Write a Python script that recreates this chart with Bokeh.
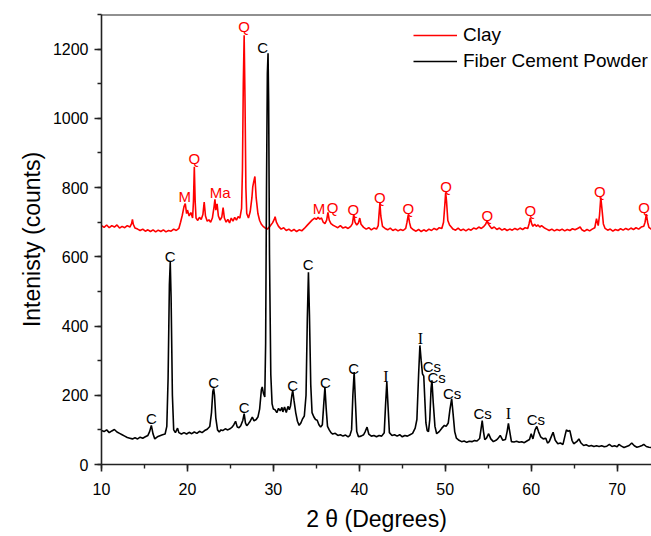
from bokeh.plotting import figure
from bokeh.models import ColumnDataSource, Legend, LegendItem, Span, SingleIntervalTicker
from bokeh.core.properties import value
from bokeh.embed import file_html
from bokeh.resources import INLINE

# ---------------- data ----------------
clay_theta = [10.0, 10.3, 10.6, 10.9, 11.2, 11.5, 11.8, 12.1, 12.4, 12.7, 13.0, 13.3, 13.5, 13.6, 13.7, 13.9,
              14.2, 14.5, 14.8, 15.1, 15.4, 15.7, 16.0, 16.3, 16.6, 16.9, 17.2, 17.5, 17.8, 18.1, 18.4, 18.7,
              19.0, 19.2, 19.4, 19.6, 19.75, 19.9, 20.0, 20.2, 20.4, 20.6, 20.7, 20.8, 20.9, 21.0, 21.2, 21.4,
              21.6, 21.8, 21.95, 22.1, 22.3, 22.5, 22.7, 22.9, 23.1, 23.2, 23.3, 23.45, 23.6, 23.8, 24.0, 24.15,
              24.3, 24.5, 24.7, 24.9, 25.1, 25.3, 25.5, 25.7, 25.9, 26.1, 26.3, 26.4, 26.5, 26.6, 26.7, 26.8,
              26.9, 27.1, 27.3, 27.5, 27.6, 27.7, 27.85, 28.0, 28.2, 28.4, 28.6, 28.8, 29.0, 29.3, 29.6, 29.9,
              30.1, 30.2, 30.35, 30.6, 30.9, 31.2, 31.5, 31.8, 32.1, 32.4, 32.7, 33.0, 33.3, 33.6, 33.9, 34.2,
              34.5, 34.8, 35.0, 35.2, 35.4, 35.6, 35.8, 36.0, 36.2, 36.35, 36.5, 36.7, 36.9, 37.2, 37.5, 37.8,
              38.1, 38.4, 38.7, 39.0, 39.2, 39.35, 39.5, 39.7, 39.9, 40.05, 40.2, 40.5, 40.8, 41.1, 41.4, 41.7,
              42.0, 42.2, 42.3, 42.4, 42.5, 42.7, 43.0, 43.3, 43.6, 43.9, 44.2, 44.5, 44.8, 45.1, 45.4, 45.55,
              45.7, 45.85, 46.0, 46.3, 46.6, 46.9, 47.2, 47.5, 47.8, 48.1, 48.4, 48.7, 49.0, 49.3, 49.6, 49.8,
              49.95, 50.05, 50.15, 50.3, 50.5, 50.7, 50.9, 51.2, 51.5, 51.8, 52.1, 52.4, 52.7, 53.0, 53.3, 53.6,
              53.9, 54.2, 54.5, 54.7, 54.85, 55.0, 55.2, 55.4, 55.7, 56.0, 56.3, 56.6, 56.9, 57.2, 57.5, 57.8,
              58.1, 58.4, 58.7, 59.0, 59.3, 59.6, 59.75, 59.9, 60.05, 60.2, 60.4, 60.6, 60.8, 61.0, 61.2, 61.5,
              61.8, 62.1, 62.4, 62.7, 63.0, 63.3, 63.6, 63.9, 64.2, 64.5, 64.8, 65.1, 65.4, 65.7, 65.9, 66.2,
              66.5, 66.8, 67.1, 67.4, 67.6, 67.8, 67.95, 68.1, 68.25, 68.4, 68.6, 68.9, 69.2, 69.5, 69.8, 70.1,
              70.4, 70.7, 71.0, 71.3, 71.6, 71.9, 72.2, 72.5, 72.8, 73.1, 73.25, 73.4, 73.55, 73.7, 74.0]
clay_counts = [690, 685, 692, 684, 690, 686, 692, 683, 688, 684, 690, 686, 696, 708, 694, 683,
               680, 676, 680, 674, 678, 673, 678, 672, 677, 673, 678, 672, 676, 674, 680, 676,
               682, 700, 720, 745, 754, 725, 735, 718, 728, 712, 760, 860, 760, 712, 705, 714,
               708, 722, 758, 718, 703, 707, 700, 712, 745, 766, 735, 753, 718, 706, 715, 742,
               712, 700, 708, 698, 712, 703, 714, 706, 716, 712, 740, 850, 1100, 1240, 1050, 800,
               725, 712, 730, 770, 802, 815, 832, 770, 725, 705, 694, 688, 684, 680, 688, 698,
               708, 716, 700, 688, 680, 684, 676, 680, 674, 679, 673, 678, 675, 682, 690, 698,
               706, 712, 708, 714, 709, 712, 700, 696, 706, 728, 706, 696, 692, 688, 684, 690,
               683, 686, 682, 688, 696, 722, 700, 692, 698, 712, 694, 685, 680, 684, 678, 683,
               680, 690, 725, 755, 718, 688, 682, 678, 683, 676, 680, 675, 679, 676, 682, 700,
               722, 698, 684, 678, 674, 679, 673, 678, 674, 680, 676, 682, 678, 684, 682, 700,
               750, 786, 760, 705, 692, 686, 680, 677, 683, 676, 680, 675, 680, 677, 683, 680,
               686, 682, 688, 694, 703, 696, 688, 682, 686, 679, 683, 677, 681, 676, 680, 677,
               682, 678, 683, 679, 684, 682, 695, 712, 696, 688, 694, 688, 692, 686, 690, 684,
               680, 676, 680, 675, 679, 676, 680, 675, 679, 676, 681, 678, 682, 686, 678, 674,
               679, 675, 680, 684, 710, 690, 720, 772, 735, 695, 682, 677, 680, 674, 679, 676,
               681, 677, 682, 678, 683, 679, 684, 680, 686, 688, 700, 723, 700, 685, 679]

cement_theta = [10.0, 10.3, 10.6, 10.9, 11.2, 11.5, 11.8, 12.1, 12.4, 12.7, 13.0, 13.3, 13.6, 13.9, 14.2, 14.5,
                14.8, 15.1, 15.4, 15.6, 15.8, 16.0, 16.2, 16.5, 16.8, 17.1, 17.4, 17.6, 17.75, 17.9, 18.0, 18.1,
                18.25, 18.4, 18.6, 18.85, 19.0, 19.3, 19.6, 19.9, 20.2, 20.5, 20.8, 21.1, 21.4, 21.7, 22.0, 22.3,
                22.6, 22.8, 22.95, 23.05, 23.15, 23.3, 23.5, 23.7, 23.9, 24.1, 24.4, 24.7, 25.0, 25.2, 25.4, 25.6,
                25.8, 26.0, 26.2, 26.45, 26.6, 26.75, 26.9, 27.1, 27.3, 27.55, 27.75, 28.0, 28.2, 28.4, 28.6, 28.7,
                28.85, 29.0, 29.1, 29.2, 29.3, 29.38, 29.45, 29.55, 29.7, 29.85, 30.0, 30.2, 30.4, 30.6, 30.8, 31.0,
                31.1, 31.3, 31.5, 31.7, 31.85, 32.0, 32.15, 32.25, 32.4, 32.6, 32.8, 33.0, 33.2, 33.4, 33.6, 33.8,
                33.95, 34.08, 34.2, 34.35, 34.5, 34.7, 34.9, 35.1, 35.3, 35.5, 35.7, 35.85, 36.0, 36.15, 36.3, 36.5,
                36.7, 36.9, 37.2, 37.5, 37.8, 38.1, 38.4, 38.7, 38.9, 39.1, 39.25, 39.4, 39.55, 39.7, 39.9, 40.2,
                40.5, 40.7, 40.9, 41.1, 41.4, 41.7, 42.0, 42.3, 42.6, 42.9, 43.05, 43.2, 43.35, 43.5, 43.8, 44.1,
                44.4, 44.7, 45.0, 45.3, 45.6, 45.9, 46.2, 46.5, 46.7, 46.9, 47.05, 47.2, 47.35, 47.5, 47.6, 47.75,
                47.9, 48.05, 48.2, 48.35, 48.45, 48.6, 48.8, 49.0, 49.3, 49.6, 49.9, 50.1, 50.35, 50.55, 50.75, 50.9,
                51.1, 51.3, 51.6, 51.9, 52.2, 52.5, 52.8, 53.1, 53.4, 53.7, 54.0, 54.15, 54.3, 54.45, 54.6, 54.8,
                55.05, 55.3, 55.6, 55.9, 56.1, 56.4, 56.7, 57.0, 57.2, 57.35, 57.5, 57.7, 58.0, 58.3, 58.6, 58.9,
                59.2, 59.5, 59.8, 60.0, 60.2, 60.45, 60.65, 60.85, 61.1, 61.4, 61.7, 61.9, 62.1, 62.4, 62.55, 62.8,
                63.1, 63.4, 63.7, 63.95, 64.1, 64.3, 64.5, 64.75, 64.95, 65.3, 65.55, 65.8, 66.1, 66.4, 66.7, 67.0,
                67.3, 67.6, 67.9, 68.2, 68.5, 68.8, 69.1, 69.4, 69.7, 70.0, 70.2, 70.5, 70.8, 71.1, 71.4, 71.7,
                72.0, 72.3, 72.6, 72.9, 73.1, 73.4, 73.7, 74.0]
cement_counts = [98, 95, 100, 92, 97, 101, 94, 90, 86, 82, 78, 76, 74, 77, 74, 79,
                 76, 80, 84, 95, 113, 88, 74, 80, 83, 86, 88, 110, 250, 520, 585, 480,
                 200, 100, 92, 105, 92, 88, 92, 88, 93, 89, 94, 90, 96, 92, 98, 102,
                 110, 150, 210, 220, 200, 135, 100, 94, 100, 98, 103, 100, 104, 108, 115, 125,
                 108, 106, 112, 128, 147, 120, 112, 118, 125, 137, 126, 130, 137, 160, 215, 224,
                 205, 195, 350, 800, 1130, 1188, 1050, 600, 260, 175, 160, 158, 150, 162, 155, 165,
                 152, 166, 150, 168, 158, 170, 200, 214, 185, 150, 125, 113, 120, 132, 140, 200,
                 420, 555, 430, 230, 150, 138, 130, 128, 115, 108, 115, 170, 224, 160, 110, 100,
                 92, 88, 90, 84, 86, 82, 85, 80, 84, 100, 200, 267, 180, 95, 80, 82,
                 86, 96, 108, 88, 82, 84, 80, 84, 82, 92, 170, 238, 165, 92, 84, 86,
                 82, 86, 80, 84, 82, 86, 90, 105, 130, 260, 344, 300, 262, 255, 200, 120,
                 98, 95, 130, 220, 243, 180, 110, 89, 95, 105, 113, 110, 120, 160, 190, 150,
                 95, 76, 70, 66, 68, 64, 67, 66, 69, 68, 75, 100, 127, 95, 72, 76,
                 89, 74, 66, 70, 74, 84, 70, 72, 95, 119, 96, 66, 65, 67, 64, 66,
                 63, 68, 72, 89, 74, 100, 110, 95, 80, 74, 76, 62, 66, 84, 93, 70,
                 60, 62, 58, 85, 100, 96, 98, 70, 60, 66, 74, 62, 55, 57, 53, 55,
                 52, 54, 52, 54, 51, 53, 58, 52, 54, 51, 58, 53, 49, 52, 55, 62,
                 54, 50, 52, 55, 58, 52, 50, 49]

# peak-phase annotations
clay_tags = ["M", "Q", "Ma", "Q", "M", "Q", "Q", "Q", "Q", "Q", "Q", "Q", "Q", "Q"]
clay_tag_theta = [19.7, 20.8, 23.8, 26.6, 35.3, 36.9, 39.3, 42.4, 45.7, 50.1, 54.9, 59.9, 68.0, 73.15]
clay_tag_counts = [773, 884, 785, 1265, 739, 742, 737, 771, 739, 802, 720, 733, 790, 742]

cement_tags = ["C", "C", "C", "C", "C", "C", "C", "C", "C", "Cs", "Cs", "Cs", "Cs", "Cs"]
cement_tag_theta = [15.8, 18.0, 23.05, 26.6, 28.75, 32.25, 34.05, 36.05, 39.35, 48.45, 49.0, 50.8, 54.35, 60.55]
cement_tag_counts = [132, 601, 236, 166, 1205, 227, 578, 236, 277, 283, 252, 206, 147, 129]

illite_tags = ["I", "I", "I"]
illite_tag_theta = [43.1, 47.1, 57.35]
illite_tag_counts = [254, 363, 147]

# ---------------- figure ----------------
FONT = "Liberation Sans"
p = figure(width=651, height=536, x_range=(10, 74), y_range=(0, 1300),
           output_backend="svg", toolbar_location=None,
           min_border_left=101, min_border_right=0, min_border_top=14, min_border_bottom=72)
p.background_fill_color = "white"
p.border_fill_color = "white"
p.outline_line_color = None
p.grid.visible = False

r_clay = p.line(clay_theta, clay_counts, line_color="#ff0000", line_width=1.6)
r_cem = p.line(cement_theta, cement_counts, line_color="black", line_width=1.6)

src_clay = ColumnDataSource(dict(x=clay_tag_theta, y=clay_tag_counts, t=clay_tags))
src_cem = ColumnDataSource(dict(x=cement_tag_theta, y=cement_tag_counts, t=cement_tags))
src_ill = ColumnDataSource(dict(x=illite_tag_theta, y=illite_tag_counts, t=illite_tags))
p.text(x="x", y="y", text="t", source=src_clay, text_color="#ff0000", text_font=value(FONT),
       text_font_size="15px", text_align="center", text_baseline="middle")
p.text(x="x", y="y", text="t", source=src_cem, text_color="black", text_font=value(FONT),
       text_font_size="15px", text_align="center", text_baseline="middle")
p.text(x="x", y="y", text="t", source=src_ill, text_color="black", text_font=value("Liberation Serif"),
       text_font_size="16px", text_align="center", text_baseline="middle")

# top border line
p.add_layout(Span(location=1300, dimension="width", line_color="#222222", line_width=2))

for ax in (p.xaxis[0], p.yaxis[0]):
    ax.axis_line_width = 1.6
    ax.axis_line_color = "#222222"
    ax.major_tick_line_color = "#222222"
    ax.minor_tick_line_color = "#222222"
    ax.major_tick_line_width = 1.6
    ax.minor_tick_line_width = 1.4
    ax.major_tick_in = 0
    ax.major_tick_out = 7
    ax.minor_tick_in = 0
    ax.minor_tick_out = 4
    ax.major_label_text_font = FONT
    ax.major_label_text_font_size = "16px"
    ax.major_label_text_color = "black"
    ax.axis_label_text_font = FONT
    ax.axis_label_text_font_size = "23px"
    ax.axis_label_text_font_style = "normal"
    ax.axis_label_text_color = "black"

p.xaxis[0].ticker = SingleIntervalTicker(interval=10, num_minor_ticks=2)
p.yaxis[0].ticker = SingleIntervalTicker(interval=200, num_minor_ticks=2)

p.xaxis.axis_label = "2 θ (Degrees)"
p.yaxis.axis_label = "Intenisty (counts)"
p.xaxis.major_label_standoff = 11
p.yaxis.major_label_standoff = 6
p.xaxis.axis_label_standoff = 8
p.yaxis.axis_label_standoff = 5

legend = Legend(items=[LegendItem(label="Clay", renderers=[r_clay]),
                       LegendItem(label="Fiber Cement Powder", renderers=[r_cem])],
                location=(312, 392), padding=0, margin=0, spacing=4,
                glyph_width=44, glyph_height=22, label_height=22, label_standoff=6,
                label_text_font=FONT, label_text_font_size="19px", label_text_color="black",
                border_line_alpha=0, background_fill_alpha=0)
p.add_layout(legend)

open("out.html", "w").write(file_html(p, INLINE))
